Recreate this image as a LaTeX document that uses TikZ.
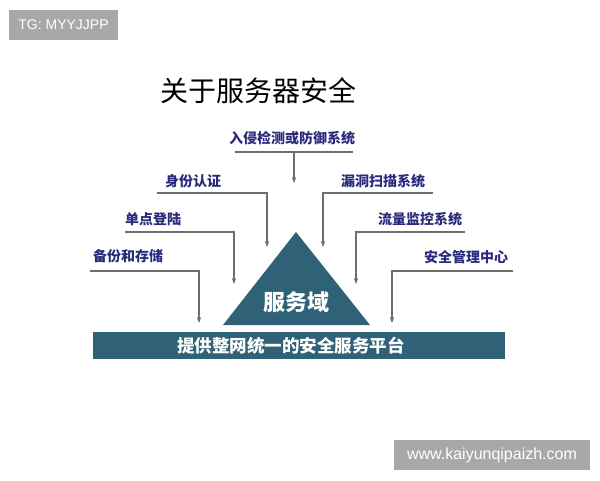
\documentclass[tikz,border=0pt]{standalone}
\usepackage{fontspec}
\setmainfont{Liberation Sans}
\newfontfamily\cjk{Noto Sans CJK SC}
\usetikzlibrary{arrows.meta,positioning}
\definecolor{labelblue}{HTML}{2B2B7E}
\definecolor{linegray}{HTML}{6E6E6E}
\definecolor{basecol}{HTML}{2F6276}
\definecolor{markgray}{HTML}{A8A8A8}

\begin{document}
\begin{tikzpicture}[x=1pt, y=-1pt,
    lbl/.style = {font=\cjk\bfseries\fontsize{14}{16}\selectfont, text=labelblue, inner sep=0pt},
    arr/.style = {draw=linegray, line width=1.4pt, -{Stealth[length=6pt,width=4.5pt]}},
    tagbox/.style = {fill=markgray, text=white, inner sep=0pt, minimum height=30pt}]
    \useasboundingbox (0,0) rectangle (600,480);
    % corner marks
    \node[tagbox, minimum width=109pt, font=\fontsize{14}{16}\selectfont] (tg) at (63.5,25) {TG: MYYJJPP};
    \node[tagbox, minimum width=196pt, font=\fontsize{16}{18}\selectfont] (web) at (492,455) {www.kaiyunqipaizh.com};
    % title
    \node[font=\cjk\fontsize{28}{32}\selectfont, inner sep=0pt] (title) at (258,91) {关于服务器安全};
    % base and triangle
    \fill[basecol] (93,332) rectangle (505,359);
    \node[font=\cjk\bfseries\fontsize{17.5}{20}\selectfont, text=white, inner sep=0pt] (bar) at (291,345.5) {提供整网统一的安全服务平台};
    \fill[basecol] (296,232) -- (370,325) -- (223,325) -- cycle;
    \node[font=\cjk\bfseries\fontsize{22}{24}\selectfont, text=white, inner sep=0pt] (dom) at (296,302) {服务域};
    % labels
    \node[lbl] (ids) at (292,138) {入侵检测或防御系统};
    \node[lbl] (auth) at (193,181) {身份认证};
    \node[lbl] (sso) at (153,219) {单点登陆};
    \node[lbl] (bak) at (128,256) {备份和存储};
    \node[lbl] (scan) at (383,181) {漏洞扫描系统};
    \node[lbl] (flow) at (420,219) {流量监控系统};
    \node[lbl] (mgmt) at (466,257) {安全管理中心};
    % line ends
    \coordinate (ids1) at (235,152);
    \coordinate (ids2) at (353,152);
    \coordinate (idsm) at (294,152);
    \coordinate (idse) at (294,183);
    \coordinate (auths) at (157,193);
    \coordinate (authe) at (267,247);
    \coordinate (ssos) at (125,232);
    \coordinate (ssoe) at (234,284);
    \coordinate (baks) at (90,271);
    \coordinate (bake) at (199,323);
    \coordinate (scans) at (433,193);
    \coordinate (scane) at (323,247);
    \coordinate (flows) at (465,232);
    \coordinate (flowe) at (356,284);
    \coordinate (mgmts) at (513,271);
    \coordinate (mgmte) at (392,323);
    % connectors
    \draw[draw=linegray, line width=1.4pt] (ids1) -- (ids2);
    \draw[arr] (idsm) -- (idse);
    \draw[arr] (auths) -| (authe);
    \draw[arr] (ssos) -| (ssoe);
    \draw[arr] (baks) -| (bake);
    \draw[arr] (scans) -| (scane);
    \draw[arr] (flows) -| (flowe);
    \draw[arr] (mgmts) -| (mgmte);
\end{tikzpicture}
\end{document}
